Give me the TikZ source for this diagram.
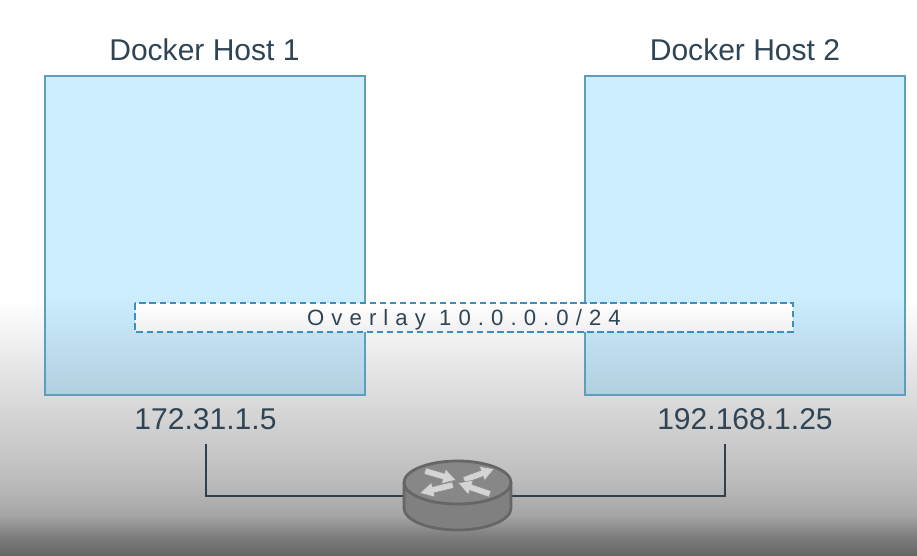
\documentclass[tikz,border=0pt]{standalone}
\usepackage{fontspec}
\setmainfont{Liberation Sans}
\newfontfamily\overlayfont[LetterSpace=32]{Liberation Sans}
\usepackage{xcolor}
\usetikzlibrary{positioning}
\definecolor{labeltext}{HTML}{2F4556}
\definecolor{hostedge}{HTML}{5F9DBD}
\definecolor{overlayedge}{HTML}{3A8FBF}
\definecolor{wire}{HTML}{2F4050}
\definecolor{hosttop}{HTML}{CDEEFF}
\definecolor{hostbottom}{HTML}{B0CFDF}
\pgfdeclareverticalshading{pageshade}{100bp}{color(0bp)=(black!60); color(25bp)=(black!60); color(26.8bp)=(black!50); color(28.6bp)=(black!35); color(31.8bp)=(black!26); color(39.2bp)=(black!14); color(48bp)=(white); color(100bp)=(white)}
\pgfdeclareverticalshading{hostshade}{100bp}{color(0bp)=(hostbottom); color(25bp)=(hostbottom); color(40.7bp)=(hosttop); color(100bp)=(hosttop)}
\pgfdeclareverticalshading{overlayshade}{100bp}{color(0bp)=(black!6); color(25bp)=(black!6); color(75bp)=(white); color(100bp)=(white)}

\begin{document}
\begin{tikzpicture}[
		x=0.02cm, y=-0.02cm,
		hostbox/.style={draw=hostedge, line width=0.9pt, shading=hostshade, minimum width=320*0.02cm, minimum height=319*0.02cm, inner sep=0pt},
		overlaybox/.style={shading=overlayshade, minimum width=657*0.02cm, minimum height=28*0.02cm, inner sep=0pt},
		overlayline/.style={draw=overlayedge, line width=1.2pt, dash pattern=on 3.7pt off 2pt},
		hostlabel/.style={font=\fontsize{17.1}{20}\selectfont, text=labeltext},
		routerarrow/.style={fill=black!17, draw=black!45, line width=0.3pt}
		]
		\useasboundingbox (0,0) rectangle (917,555);
		\shade[shading=pageshade] (0,0) rectangle (917,555);
		
		% The two hosts
		\node[hostbox] (host1) at (205,235.5) {};
		\node[hostbox] (host2) at (745,235.5) {};
		\node[hostlabel] (title1) at (204.5,50) {Docker Host 1};
		\node[hostlabel] (title2) at (745,50) {Docker Host 2};
		\node[hostlabel] (addr1) at (205.5,419.5) {172.31.1.5};
		\node[hostlabel] (addr2) at (745,419.5) {192.168.1.25};
		
		% The overlay
		\node[overlaybox, font=\overlayfont\fontsize{12.6}{15}\selectfont, text=labeltext, text height=9pt, text depth=0pt] (overlay) at (464,317.5) {Overlay 10.0.0.0/24};
		\draw[overlayline] (overlay.north west) rectangle (overlay.south east);
		
		% The router
		\node[minimum width=107*0.02cm, minimum height=2pt, inner sep=0pt] (router) at (457.5,496) {};
		\coordinate (drop1) at (206,444);
		\coordinate (drop2) at (725,444);
		\draw[wire, line width=0.9pt] (drop1) |- (router.west);
		\draw[wire, line width=0.9pt] (drop2) |- (router.east);
		\filldraw[draw=black!60, fill=black!50, line width=1.6pt] (404,482.5) -- (404,508) arc[start angle=180, end angle=0, x radius=53.5, y radius=22] -- (511,482.5);
		\filldraw[draw=black!60, fill=black!47, line width=1.6pt] (457.5,482.5) ellipse[x radius=53.5, y radius=21.5];
		\foreach \tx/\ty/\hx/\hy in {425/471/456/480, 464/480/494/469, 453/485/420/493, 490/494/458/483} {
			\pgfmathsetmacro{\ang}{atan2(\ty-\hy,\hx-\tx)}
			\pgfmathsetmacro{\len}{veclen(\hx-\tx,\hy-\ty)}
			\filldraw[routerarrow, shift={(\tx,\ty)}, rotate=\ang]
				(0,-3.2) -- (0.6*\len,-3.2) -- (0.6*\len,-7.5) -- (\len,0) -- (0.6*\len,7.5) -- (0.6*\len,3.2) -- (0,3.2) -- cycle;
		}
\end{tikzpicture}
\end{document}
